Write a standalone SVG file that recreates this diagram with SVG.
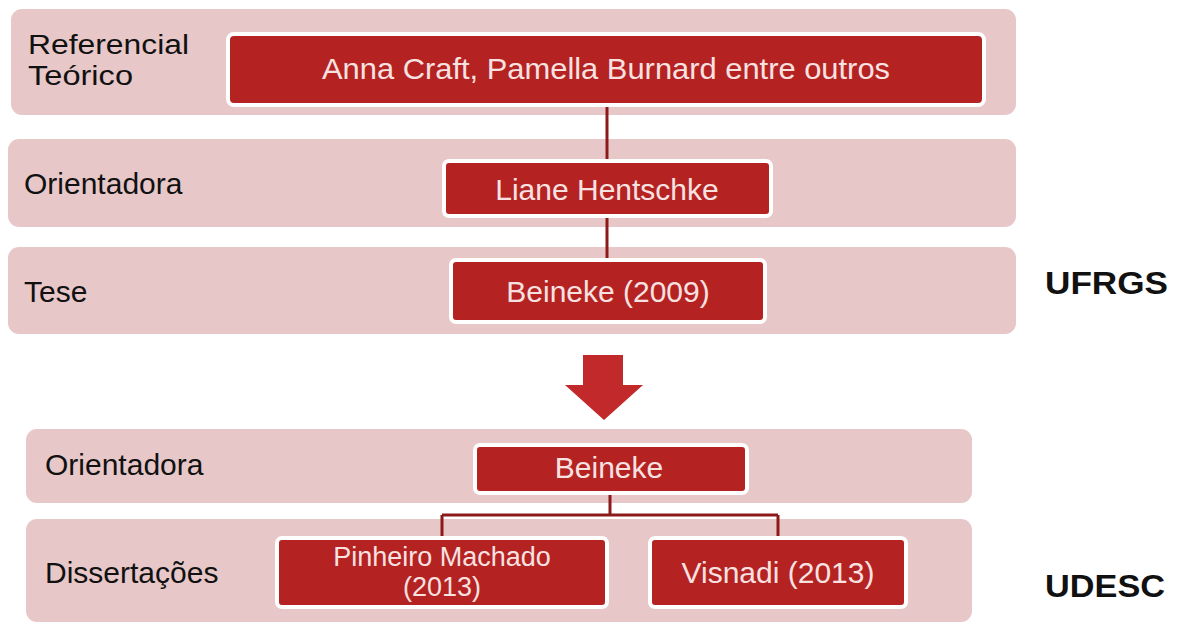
<svg xmlns="http://www.w3.org/2000/svg" width="1182" height="624" viewBox="0 0 1182 624">
<style>
.band{fill:#e7c7c8}
.node{fill:#b42221;stroke:#ffffff;stroke-width:4}
.lbl{font-family:"Liberation Sans",Arial,sans-serif;font-size:30px;fill:#111111}
.lbl2{font-family:"Liberation Sans",Arial,sans-serif;font-size:27px;fill:#111111}
.nt{font-family:"Liberation Sans",Arial,sans-serif;font-size:30px;fill:#f8e2e1;text-anchor:middle}
.nt2{font-family:"Liberation Sans",Arial,sans-serif;font-size:27px;fill:#f8e2e1;text-anchor:middle}
.inst{font-family:"Liberation Sans",Arial,sans-serif;font-size:31px;font-weight:bold;fill:#111111}
.conn{stroke:#8c1a1a;stroke-width:3;fill:none}
</style>
<rect x="0" y="0" width="1182" height="624" fill="#ffffff"/>
<g id="band-referencial">
<rect class="band" x="11" y="9" width="1005" height="106" rx="11"/>
<text class="lbl2" x="28" y="54" textLength="161" lengthAdjust="spacingAndGlyphs">Referencial</text>
<text class="lbl2" x="28" y="85" textLength="105" lengthAdjust="spacingAndGlyphs">Teórico</text>
</g>
<g id="band-orientadora1">
<rect class="band" x="8" y="139" width="1008" height="88" rx="11"/>
<text class="lbl" x="24" y="194">Orientadora</text>
</g>
<g id="band-tese">
<rect class="band" x="8" y="247" width="1008" height="87" rx="11"/>
<text class="lbl" x="24" y="302">Tese</text>
</g>
<g id="band-orientadora2">
<rect class="band" x="26" y="429" width="946" height="74" rx="11"/>
<text class="lbl" x="45" y="475">Orientadora</text>
</g>
<g id="band-dissertacoes">
<rect class="band" x="26" y="519" width="946" height="103" rx="11"/>
<text class="lbl" x="45" y="583">Dissertações</text>
</g>
<g id="connectors">
<line class="conn" x1="607" y1="105" x2="607" y2="161"/>
<line class="conn" x1="607" y1="216" x2="607" y2="260"/>
<path class="conn" d="M610 493 V515 M442 515 H778 M442 515 V538 M778 515 V538"/>
<polygon points="583,355 623,355 623,385 643,385 604,420 565,385 583,385" fill="#c2292a"/>
</g>
<g id="node-anna">
<rect class="node" x="228" y="34" width="756" height="71" rx="6"/>
<text class="nt" x="606" y="79" textLength="568" lengthAdjust="spacingAndGlyphs">Anna Craft, Pamella Burnard entre outros</text>
</g>
<g id="node-liane">
<rect class="node" x="444" y="161" width="327" height="55" rx="5"/>
<text class="nt" x="607" y="200">Liane Hentschke</text>
</g>
<g id="node-beineke2009">
<rect class="node" x="451" y="260" width="314" height="62" rx="5"/>
<text class="nt" x="608" y="302">Beineke (2009)</text>
</g>
<g id="label-ufrgs">
<text class="inst" x="1045" y="294" textLength="123" lengthAdjust="spacingAndGlyphs">UFRGS</text>
</g>
<g id="node-beineke">
<rect class="node" x="475" y="445" width="272" height="48" rx="5"/>
<text class="nt" x="609" y="478">Beineke</text>
</g>
<g id="node-pinheiro">
<rect class="node" x="277" y="538" width="330" height="69" rx="5"/>
<text class="nt2" x="442" y="566">Pinheiro Machado</text>
<text class="nt2" x="442" y="596">(2013)</text>
</g>
<g id="node-visnadi">
<rect class="node" x="650" y="538" width="256" height="69" rx="5"/>
<text class="nt" x="778" y="583">Visnadi (2013)</text>
</g>
<g id="label-udesc">
<text class="inst" x="1045" y="597" textLength="120" lengthAdjust="spacingAndGlyphs">UDESC</text>
</g>
</svg>
